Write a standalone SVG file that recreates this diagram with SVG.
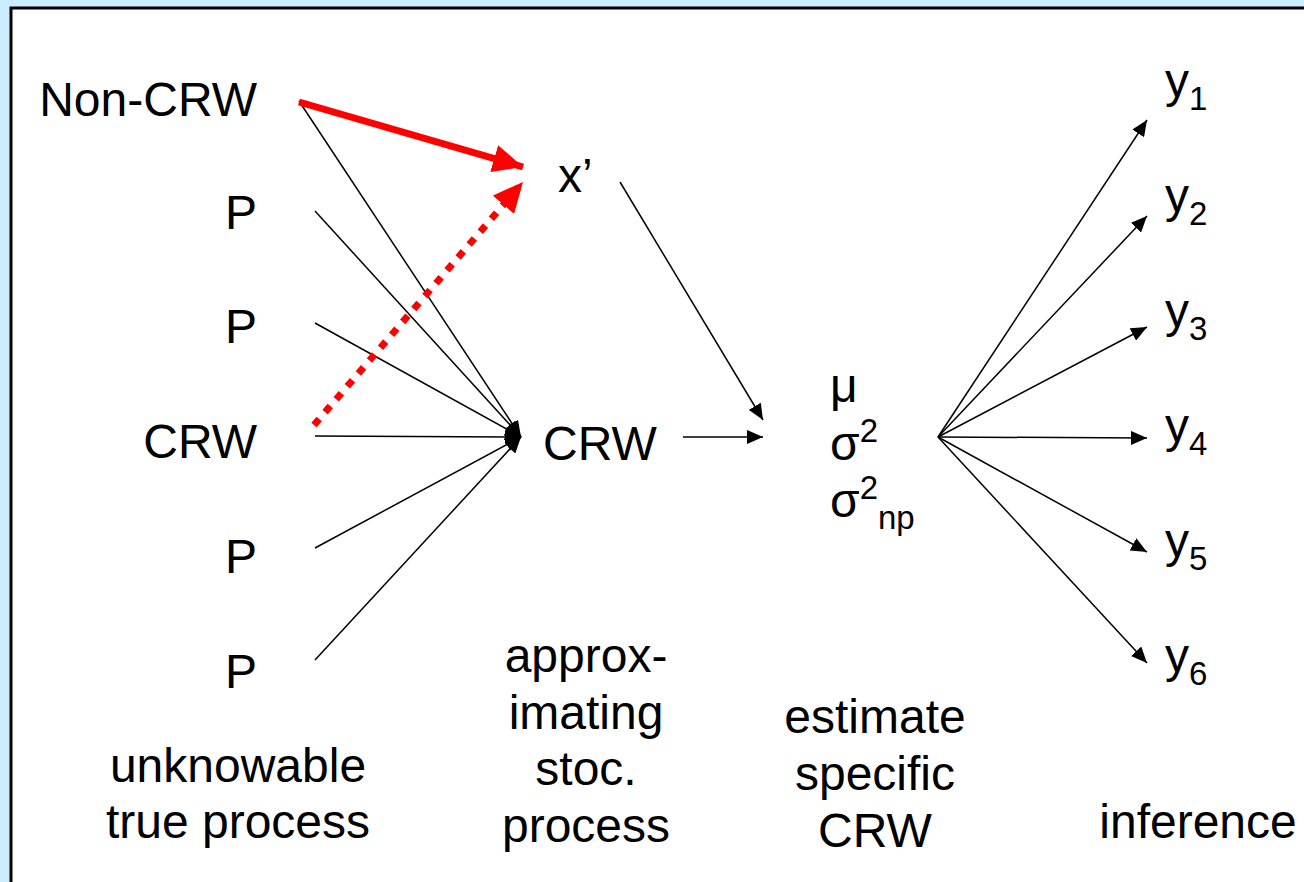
<svg xmlns="http://www.w3.org/2000/svg" width="1304" height="882" viewBox="0 0 1304 882">
<style>
text{font-family:"Liberation Sans",Arial,sans-serif;font-size:48px;fill:#000}
.sub{font-size:33px}
.e{text-anchor:end}
.m{text-anchor:middle}
.c{stroke:#000;stroke-width:1.5;fill:none}
</style>
<defs>
<marker id="ah" markerUnits="userSpaceOnUse" markerWidth="16" markerHeight="14" refX="16" refY="7" orient="auto"><path d="M0,0L16,7L0,14z" fill="#000"/></marker>
<marker id="rh" markerUnits="userSpaceOnUse" markerWidth="30" markerHeight="28" refX="30" refY="14" orient="auto"><path d="M0,0L30,14L0,28z" fill="#f00"/></marker>
</defs>
<rect x="0" y="0" width="1304" height="882" fill="#CCECFF"/>
<rect x="11" y="8" width="1300" height="880" fill="#fff" stroke="#000" stroke-width="3"/>
<g id="connectors">
<line class="c" x1="299" y1="101" x2="521" y2="437" marker-end="url(#ah)"/>
<line class="c" x1="315" y1="211" x2="521" y2="437" marker-end="url(#ah)"/>
<line class="c" x1="315" y1="323" x2="521" y2="437" marker-end="url(#ah)"/>
<line class="c" x1="315" y1="436" x2="521" y2="437" marker-end="url(#ah)"/>
<line class="c" x1="315" y1="548" x2="521" y2="437" marker-end="url(#ah)"/>
<line class="c" x1="315" y1="660" x2="521" y2="437" marker-end="url(#ah)"/>
<line class="c" x1="620" y1="182" x2="763" y2="420" marker-end="url(#ah)"/>
<line class="c" x1="683" y1="437" x2="763" y2="437" marker-end="url(#ah)"/>
<line class="c" x1="938" y1="437" x2="1147" y2="120" marker-end="url(#ah)"/>
<line class="c" x1="938" y1="437" x2="1147" y2="216" marker-end="url(#ah)"/>
<line class="c" x1="938" y1="437" x2="1147" y2="327" marker-end="url(#ah)"/>
<line class="c" x1="938" y1="437" x2="1147" y2="438" marker-end="url(#ah)"/>
<line class="c" x1="938" y1="437" x2="1147" y2="552" marker-end="url(#ah)"/>
<line class="c" x1="938" y1="437" x2="1147" y2="663" marker-end="url(#ah)"/>
<line x1="299" y1="102" x2="523" y2="167" stroke="#f00" stroke-width="7" marker-end="url(#rh)"/>
<line x1="314" y1="425" x2="523" y2="182" stroke="#f00" stroke-width="7" stroke-dasharray="8 9" marker-end="url(#rh)"/>
</g>
<g id="node-noncrw"><text class="e" x="257" y="116">Non-CRW</text></g>
<g id="node-p1"><text class="e" x="257" y="229">P</text></g>
<g id="node-p2"><text class="e" x="257" y="343">P</text></g>
<g id="node-crw-left"><text class="e" x="257" y="458">CRW</text></g>
<g id="node-p3"><text class="e" x="257" y="573">P</text></g>
<g id="node-p4"><text class="e" x="257" y="688">P</text></g>
<g id="node-xprime"><text x="558" y="192">x’</text></g>
<g id="node-crw-mid"><text x="543" y="460">CRW</text></g>
<g id="node-params">
<text x="830" y="402">μ</text>
<text x="830" y="460">σ<tspan class="sub" dy="-18">2</tspan></text>
<text x="830" y="517">σ<tspan class="sub" dy="-18">2</tspan><tspan class="sub" dy="30">np</tspan></text>
</g>
<g id="node-y">
<text x="1165" y="97">y<tspan class="sub" dy="13">1</tspan></text>
<text x="1165" y="212">y<tspan class="sub" dy="13">2</tspan></text>
<text x="1165" y="327">y<tspan class="sub" dy="13">3</tspan></text>
<text x="1165" y="442">y<tspan class="sub" dy="13">4</tspan></text>
<text x="1165" y="557">y<tspan class="sub" dy="13">5</tspan></text>
<text x="1165" y="672">y<tspan class="sub" dy="13">6</tspan></text>
</g>
<g id="label-true">
<text class="m" x="238" y="782">unknowable</text>
<text class="m" x="238" y="838">true process</text>
</g>
<g id="label-approx">
<text class="m" x="586" y="672">approx-</text>
<text class="m" x="586" y="729">imating</text>
<text class="m" x="586" y="785">stoc.</text>
<text class="m" x="586" y="842">process</text>
</g>
<g id="label-estimate">
<text class="m" x="875" y="733">estimate</text>
<text class="m" x="875" y="790">specific</text>
<text class="m" x="875" y="847">CRW</text>
</g>
<g id="label-inference"><text class="m" x="1198" y="838">inference</text></g>
</svg>
